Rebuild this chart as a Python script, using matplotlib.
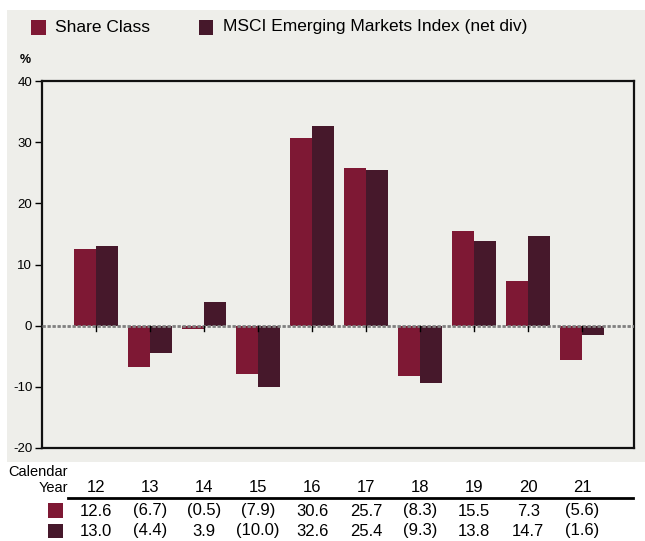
import matplotlib.pyplot as plt
import matplotlib.transforms as mtransforms
from matplotlib.patches import Rectangle
import numpy as np

# data
years = ["12", "13", "14", "15", "16", "17", "18", "19", "20", "21"]
share_class = [12.6, -6.7, -0.5, -7.9, 30.6, 25.7, -8.3, 15.5, 7.3, -5.6]
msci_em = [13.0, -4.4, 3.9, -10.0, 32.6, 25.4, -9.3, 13.8, 14.7, -1.6]
series_names = ["Share Class", "MSCI Emerging Markets Index (net div)"]
y_ticks = [-20, -10, 0, 10, 20, 30, 40]

c_share = "#7E1834"
c_msci = "#46182B"
bg = "#EEEEEA"

plt.rcParams['font.family'] = ['Liberation Sans Narrow', 'Liberation Sans', 'DejaVu Sans']

W, H = 645, 541
fig = plt.figure(figsize=(W / 100, H / 100), dpi=100)


def px_rect(x0, y0, x1, y1, color, z=1):
    # rectangle in pixel coords (y from top)
    fig.patches.append(Rectangle((x0 / W, 1 - y1 / H), (x1 - x0) / W, (y1 - y0) / H,
                                 transform=fig.transFigure, facecolor=color,
                                 edgecolor="none", zorder=z))


# grey panel behind chart
px_rect(7, 10, 645, 462, bg, z=-1)

ax = fig.add_axes([42 / W, 1 - 448 / H, (634 - 42) / W, (448 - 81) / H])
ax.set_zorder(2)
ax.set_facecolor(bg)

x = np.arange(1, len(years) + 1)
bw = 0.405
ax.bar(x - bw / 2, share_class, bw, color=c_share, zorder=2)
ax.bar(x + bw / 2, msci_em, bw, color=c_msci, zorder=2)

ax.axhline(0, color="#808080", lw=2, ls=(0, (1.2, 0.6)), zorder=3)
# small ticks at zero line
for xi in x:
    ax.plot([xi, xi], [0, -0.9], color="black", lw=1, zorder=4)

ax.set_xlim(0, 10.96)
ax.set_ylim(-20, 40)
ax.set_xticks([])
ax.set_yticks(y_ticks)
ax.set_yticklabels([str(t) for t in y_ticks], fontsize=9.5)
ax.tick_params(axis="y", length=5, width=1, pad=2)
for s in ax.spines.values():
    s.set_linewidth(1.6)
    s.set_color("#111111")

fig.text(20 / W, 1 - 60 / H, "%", fontsize=9, fontweight="bold", va="center", ha="left")

# legend
px_rect(31, 20, 46, 35, c_share)
fig.text(55 / W, 1 - 27 / H, series_names[0], fontsize=12.5, va="center", ha="left")
px_rect(199, 20, 213, 35, c_msci)
fig.text(223 / W, 1 - 27 / H, series_names[1], fontsize=12.5, va="center", ha="left")

# table below
tr = mtransforms.blended_transform_factory(ax.transData, fig.transFigure)
fig.text(68 / W, 1 - 472 / H, "Calendar", fontsize=10.5, ha="right", va="center")
fig.text(68 / W, 1 - 488 / H, "Year", fontsize=10.5, ha="right", va="center")
fig.add_artist(plt.Line2D([68 / W, 633 / W], [1 - 498 / H, 1 - 498 / H],
                          color="black", lw=2, transform=fig.transFigure))


def fmt(v):
    return f"({abs(v):.1f})" if v < 0 else f"{v:.1f}"


for xi, yr, a, b in zip(x, years, share_class, msci_em):
    fig.text(xi, 1 - 487 / H, yr, fontsize=12, ha="center", va="center", transform=tr)
    fig.text(xi, 1 - 511 / H, fmt(a), fontsize=12, ha="center", va="center", transform=tr)
    fig.text(xi, 1 - 531 / H, fmt(b), fontsize=12, ha="center", va="center", transform=tr)

px_rect(48, 503, 63, 518, c_share)
px_rect(48, 524, 63, 538, c_msci)

fig.savefig("out.png", dpi=100)
